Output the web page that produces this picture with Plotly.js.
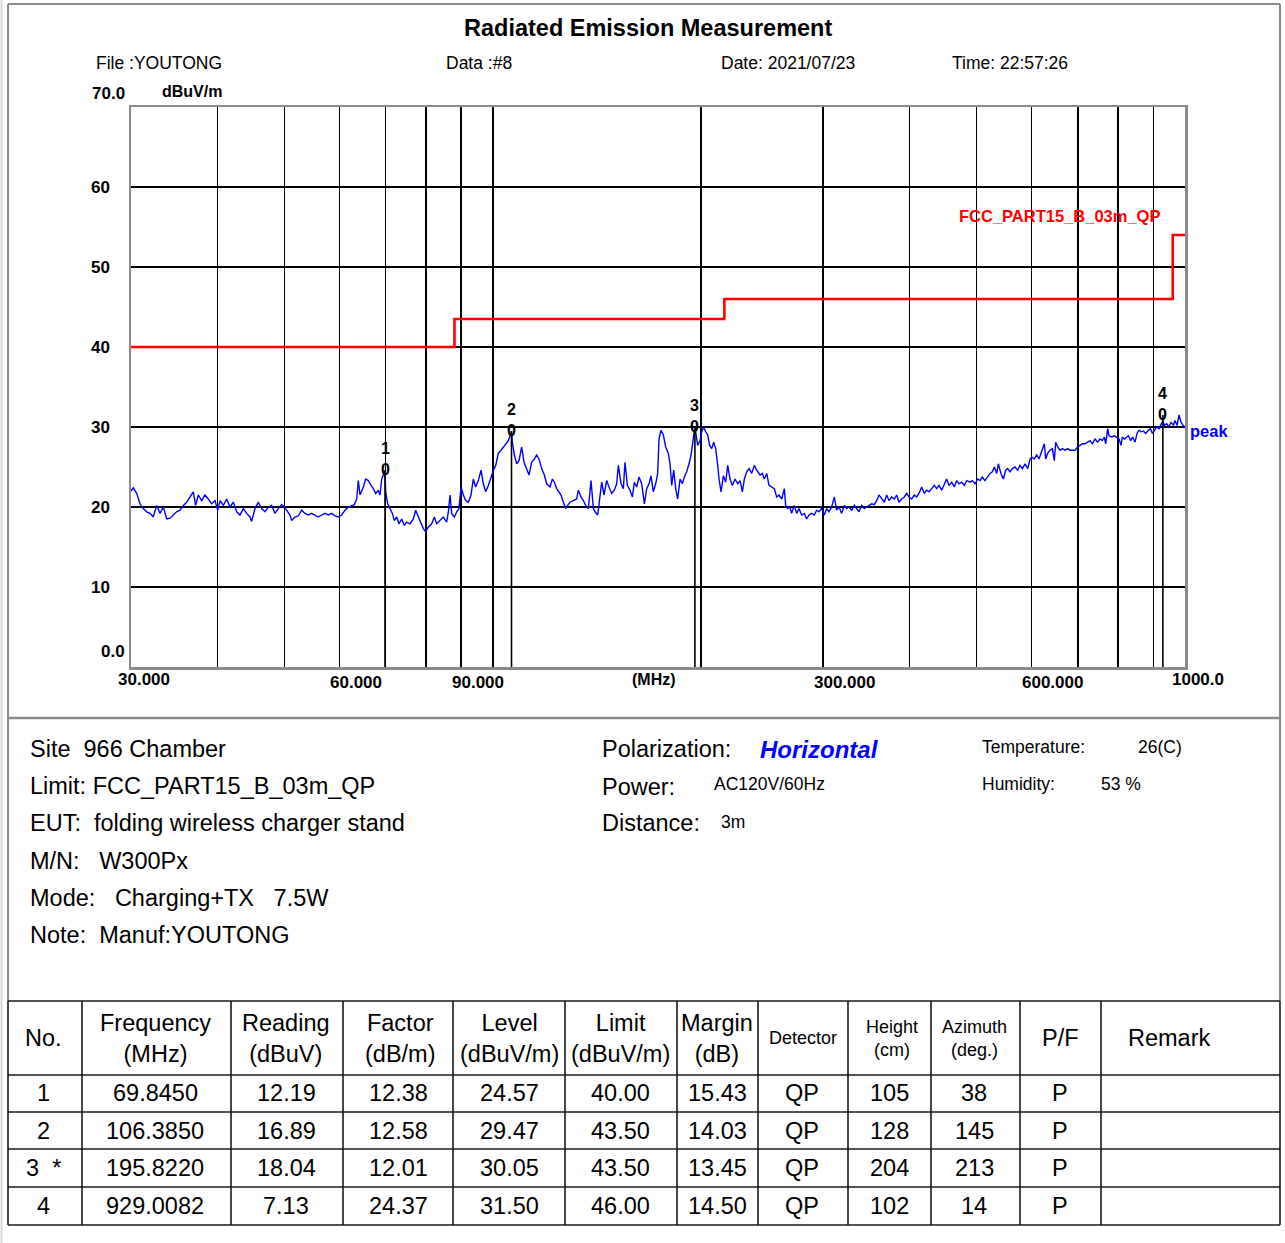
<!DOCTYPE html>
<html>
<head>
<meta charset="utf-8">
<script src="https://cdn.plot.ly/plotly-3.0.1.min.js"></script>
<style>
html,body{margin:0;padding:0;background:#fff;}
#chart{width:1285px;height:1243px;}
</style>
</head>
<body>
<div id="chart"></div>
<script>
// ---------------- DATA ----------------
const traceFreq = [
30.00,30.23,30.57,30.91,31.26,31.60,31.96,32.31,32.67,33.04,33.41,33.78,34.16,34.54,34.92,35.31,35.71,36.10,36.51,36.91,
37.20,37.53,37.95,38.37,38.80,39.23,39.67,40.03,40.34,40.79,41.24,41.70,42.17,42.64,43.11,43.59,44.08,44.57,44.82,45.32,
45.83,46.34,46.85,47.38,47.90,48.44,48.98,49.52,49.97,50.36,50.92,51.20,51.77,52.35,52.93,53.52,54.12,54.72,55.33,55.95,
56.57,57.20,57.84,58.49,59.14,59.80,60.47,61.14,61.83,62.51,63.07,63.56,63.91,64.27,64.99,65.49,66.08,66.66,67.18,67.71,
68.31,68.69,69.08,69.845,70.00,70.47,71.01,71.57,72.05,72.61,73.17,73.83,74.48,75.06,75.90,76.75,77.34,78.03,78.73,79.34,
79.96,80.67,81.58,82.31,82.94,83.87,84.80,85.75,86.23,86.71,87.19,87.97,88.65,89.34,89.94,90.64,91.35,92.16,92.98,93.70,
94.43,95.27,96.13,96.87,97.63,98.50,99.38,100.15,100.94,101.83,102.74,103.54,104.35,105.28,106.385,106.69,107.40,108.24,109.08,110.05,
110.91,111.90,112.77,113.77,114.79,115.68,116.58,117.62,118.67,119.60,120.93,121.88,122.69,123.65,124.61,125.45,126.42,127.41,128.25,129.25,
130.70,132.15,132.89,134.07,135.12,136.17,137.39,138.61,139.69,140.47,141.72,142.82,143.62,144.74,146.02,147.16,148.47,149.79,150.96,151.80,
153.16,154.35,155.20,156.42,157.81,159.04,160.11,161.35,162.60,164.06,165.53,166.81,168.11,169.23,170.54,171.88,173.02,173.79,174.96,176.33,
177.70,179.28,180.28,181.28,182.49,183.71,184.94,186.38,187.83,189.08,190.55,192.04,193.33,194.61,195.822,197.66,199.20,200.31,201.64,203.00,
204.35,205.71,207.09,208.47,209.86,211.26,212.20,213.62,215.28,216.96,218.41,220.11,221.82,223.80,225.80,227.56,229.33,230.86,232.66,234.47,
236.56,238.67,240.53,243.21,245.08,246.70,248.64,250.58,252.80,255.05,257.06,259.07,261.37,263.69,264.86,266.60,268.64,270.14,272.56,274.71,
276.84,279.33,281.82,284.01,286.24,288.80,291.38,293.63,295.93,298.56,301.21,303.56,305.92,308.65,311.40,313.82,316.26,319.05,321.90,324.46,
326.97,329.91,332.86,335.44,338.04,341.06,344.09,346.77,349.48,352.61,355.74,358.51,361.32,364.52,367.77,370.64,373.54,376.86,380.21,383.18,
386.17,389.61,393.08,396.16,399.22,402.79,406.35,409.53,412.71,416.42,420.13,423.40,426.71,430.51,434.33,437.73,441.15,445.07,449.04,452.53,
456.05,460.12,464.23,467.84,471.48,475.69,479.92,483.68,489.06,492.88,497.26,501.73,505.63,509.57,514.09,518.66,522.70,526.79,530.30,534.44,
537.42,542.18,546.42,550.70,554.40,558.68,563.01,568.06,573.11,577.58,582.11,587.35,592.54,597.21,600.43,605.77,610.49,615.25,620.73,626.26,
629.05,633.24,638.19,643.19,647.47,650.36,654.69,659.79,664.93,670.90,676.86,682.11,687.40,693.51,699.71,705.19,710.68,717.03,723.42,729.05,
734.73,741.32,747.91,753.73,759.60,764.65,768.06,773.21,776.62,783.55,790.52,796.73,802.89,808.27,811.88,817.22,823.62,828.23,834.68,840.26,
846.80,852.48,858.15,863.88,870.61,877.39,885.23,891.15,897.07,903.08,910.10,917.17,923.33,929.008,933.62,940.88,948.20,954.54,962.00,967.34,
973.83,980.33,986.87,993.51,1000.0
];
const traceLevel = [
22.0,22.4,21.7,20.4,19.8,19.4,19.2,18.75,20.2,19.2,20.0,18.5,18.6,19.0,19.4,19.6,20.2,20.6,21.25,21.9,
20.2,21.5,20.8,21.5,21.0,20.4,20.8,19.6,20.8,20.2,21.0,20.0,20.6,19.4,19.0,19.8,19.2,18.75,18.2,19.8,
20.6,19.8,19.4,20.0,20.2,19.2,19.8,20.3,20.0,19.6,19.0,18.3,18.75,18.9,19.6,19.2,19.0,19.2,19.0,18.75,
19.0,19.2,19.0,19.2,18.9,18.75,19.0,19.6,20.0,20.2,20.3,21.0,23.3,21.5,22.5,23.5,23.3,22.7,22.3,21.7,
22.1,21.5,23.5,24.57,21.9,20.4,19.8,19.2,18.3,18.75,17.9,18.5,17.7,18.1,17.9,18.5,19.6,18.75,17.9,17.3,
16.9,17.5,17.9,18.75,17.9,18.3,18.75,18.1,19.4,21.5,19.2,18.75,19.4,19.8,22.5,21.5,20.8,20.6,21.5,23.5,
22.5,23.3,24.6,22.9,21.9,22.7,23.75,24.6,25.2,26.7,27.1,27.5,27.9,28.3,29.47,28.1,26.5,25.4,25.8,27.5,
25.6,24.8,24.0,25.6,26.0,26.5,26.0,24.8,24.0,22.9,22.5,23.5,23.1,22.3,21.9,21.5,20.6,19.8,20.2,20.6,
20.8,21.0,22.1,21.25,20.8,20.2,19.8,23.3,19.8,19.4,19.0,21.0,23.1,21.5,23.3,22.5,21.7,22.1,22.9,25.2,
22.9,22.3,25.6,22.7,22.1,21.25,23.1,22.5,23.75,22.9,20.4,22.3,22.9,23.9,21.9,22.9,24.2,28.5,29.6,29.0,
27.5,26.7,25.4,22.7,24.6,22.3,21.0,23.5,22.9,23.75,24.4,25.4,26.5,28.3,30.05,27.7,28.3,29.4,30.0,29.4,
29.0,27.7,27.3,28.1,27.3,25.2,23.5,21.9,23.9,23.1,25.2,23.5,22.7,23.5,22.9,23.3,21.9,23.5,24.4,24.8,
24.2,25.2,24.6,24.0,24.2,23.5,24.2,22.7,22.5,22.3,21.25,21.5,21.0,22.3,20.2,19.8,20.0,19.2,20.2,19.2,
19.8,19.0,19.2,18.5,19.0,19.2,19.0,19.6,19.4,19.8,19.0,19.8,19.4,20.0,21.25,19.6,20.0,19.2,20.2,19.8,
20.0,19.6,20.2,19.8,19.4,20.2,19.8,20.0,20.2,20.4,20.3,20.8,21.5,21.0,20.6,21.5,20.8,21.25,21.0,21.5,
20.6,21.0,21.25,21.7,21.25,21.0,21.5,21.25,21.7,22.5,21.7,22.1,21.9,22.3,22.7,22.3,22.7,22.1,22.9,23.5,
22.7,23.1,22.5,23.3,22.9,23.1,22.7,23.3,23.1,23.3,22.9,23.5,23.3,23.75,23.3,23.75,24.2,24.4,25.0,24.2,
25.4,24.2,23.5,24.6,24.8,24.4,24.8,25.0,24.6,25.2,24.8,25.4,24.8,26.0,26.25,26.0,26.5,26.0,26.9,27.9,
26.0,26.7,27.1,27.3,25.8,28.1,27.5,27.1,27.3,27.1,27.3,27.1,27.1,27.1,27.5,27.7,27.9,27.9,28.1,28.3,
27.9,28.5,28.1,28.5,28.3,28.75,27.9,29.8,28.9,28.75,28.9,28.75,28.5,27.7,28.75,28.5,28.75,28.9,28.3,28.75,
28.1,29.2,29.6,29.4,29.5,29.2,29.6,29.8,29.2,29.6,30.0,29.8,30.4,30.8,30.2,30.4,30.0,30.6,30.2,30.8,
30.2,31.5,30.6,30.2,30.0
];

const limitFreq  = [30, 88, 216, 960, 1000];
const limitLevel = [40, 43.5, 46, 54, 54];

const markerNo    = ['1', '2', '3', '4'];
const markerFreq  = [69.845, 106.385, 195.822, 929.0082];
const markerLevel = [24.57, 29.47, 30.05, 31.50];

const gridFreqs  = [40, 50, 60, 70, 80, 90, 100, 200, 300, 400, 500, 600, 700, 800, 900];
const xTickVals  = [30, 60, 90, 300, 600, 1000];
const xTickText  = ['30.000', '60.000', '90.000', '300.000', '600.000', '1000.0'];
const yTickVals  = [70, 60, 50, 40, 30, 20, 10, 0];
const yTickText  = ['70.0', '60', '50', '40', '30', '20', '10', '0.0'];

const headerInfo = ['File :YOUTONG', 'Data :#8', 'Date: 2021/07/23', 'Time: 22:57:26'];
const leftInfo = ['Site  966 Chamber', 'Limit: FCC_PART15_B_03m_QP', 'EUT:  folding wireless charger stand',
                  'M/N:   W300Px', 'Mode:   Charging+TX   7.5W', 'Note:  Manuf:YOUTONG'];

const tableHeader = ['No.', 'Frequency<br>(MHz)', 'Reading<br>(dBuV)', 'Factor<br>(dB/m)', 'Level<br>(dBuV/m)',
                     'Limit<br>(dBuV/m)', 'Margin<br>(dB)', 'Detector', 'Height<br>(cm)', 'Azimuth<br>(deg.)', 'P/F', 'Remark'];
const colNo       = ['1', '2', '3\u00a0\u00a0*', '4'];
const colFreq     = ['69.8450', '106.3850', '195.8220', '929.0082'];
const colReading  = ['12.19', '16.89', '18.04', '7.13'];
const colFactor   = ['12.38', '12.58', '12.01', '24.37'];
const colLevel    = ['24.57', '29.47', '30.05', '31.50'];
const colLimit    = ['40.00', '43.50', '43.50', '46.00'];
const colMargin   = ['15.43', '14.03', '13.45', '14.50'];
const colDetector = ['QP', 'QP', 'QP', 'QP'];
const colHeight   = ['105', '128', '204', '102'];
const colAzimuth  = ['38', '145', '213', '14'];
const colPF       = ['P', 'P', 'P', 'P'];
const colRemark   = ['', '', '', ''];

// ---------------- LAYOUT HELPERS ----------------
const W = 1285, H = 1243;
const PX = x => x / W;
const PY = y => 1 - y / H;
const FONT = 'Liberation Sans, Arial, sans-serif';

const annotations = [];
const shapes = [];
function txt(x, y, text, size, opts) {
  opts = opts || {};
  annotations.push(Object.assign({
    xref: 'paper', yref: 'paper', x: PX(x), y: PY(y), text: text, showarrow: false,
    xanchor: 'left', yanchor: 'middle',
    font: {family: FONT, size: size, color: opts.color || '#000', weight: opts.weight || 'normal', style: opts.style || 'normal'}
  }, opts.extra || {}));
}
function line(x0, y0, x1, y1, color, width) {
  shapes.push({type: 'line', xref: 'paper', yref: 'paper', x0: PX(x0), y0: PY(y0), x1: PX(x1), y1: PY(y1),
               line: {color: color, width: width}, layer: 'above'});
}

// Title + header
txt(648, 28, 'Radiated Emission Measurement', 23.5, {weight: 'bold', extra: {xanchor: 'center'}});
const headerX = [94, 444, 719, 950];
headerInfo.forEach((t, i) => txt(headerX[i], 63, t, 17.5));

// y tick labels
yTickVals.forEach((v, i) => {
  const isEnd = (v === 70 || v === 0);
  annotations.push({xref: 'paper', yref: 'y', x: PX(isEnd ? 127 : 112), y: v, text: yTickText[i],
    showarrow: false, xanchor: 'right', yanchor: 'middle', yshift: v === 70 ? 14 : (v === 0 ? 16 : 0),
    font: {family: FONT, size: 17, weight: 'bold', color: '#000'}});
});
txt(160, 91, 'dBuV/m', 16, {weight: 'bold'});

// x tick labels
xTickVals.forEach((v, i) => {
  const isEnd = (v === 30 || v === 1000);
  annotations.push({xref: 'x', yref: 'paper', x: Math.log10(v), y: PY(isEnd ? 679 : 682), text: xTickText[i],
    showarrow: false, xanchor: 'left', yanchor: 'middle', xshift: isEnd ? -15 : -11,
    font: {family: FONT, size: 17, weight: 'bold', color: '#000'}});
});
txt(654, 679, '(MHz)', 16, {weight: 'bold', extra: {xanchor: 'center'}});

// limit label and peak label
txt(957, 216, 'FCC_PART15_B_03m_QP', 16.5, {weight: 'bold', color: '#ff0000'});
txt(1188, 431, 'peak', 16.5, {weight: 'bold', color: '#0000ff'});

// marker labels: number stacked above a "0" centred on the measured level
markerNo.forEach((n, i) => {
  annotations.push({xref: 'x', yref: 'y', x: Math.log10(markerFreq[i]), y: markerLevel[i],
    text: n + '<br>0', showarrow: false, xanchor: 'center', yanchor: 'bottom', yshift: -10,
    font: {family: FONT, size: 16, weight: 'bold', color: '#000'}});
});

// page frame
line(8, 4, 1280, 4, '#8a8a8a', 2);
line(8, 4, 8, 1001, '#8a8a8a', 2);
line(1280, 4, 1280, 1001, '#8a8a8a', 2);
line(8, 718, 1280, 718, '#8a8a8a', 2.5);
line(1.5, 0, 1.5, 1243, '#d8d8d8', 2);

// info block
leftInfo.forEach((t, i) => txt(28, 749 + i * 37.2, t, 23.5));
txt(600, 749, 'Polarization:', 23.5);
txt(758, 749, 'Horizontal', 24, {weight: 'bold', style: 'italic', color: '#0000ff'});
txt(600, 787, 'Power:', 23.5);
txt(712, 784, 'AC120V/60Hz', 17.5);
txt(600, 823, 'Distance:', 23.5);
txt(719, 822, '3m', 17.5);
txt(980, 747, 'Temperature:', 17.5);
txt(1136, 747, '26(C)', 17.5);
txt(980, 784, 'Humidity:', 17.5);
txt(1099, 784, '53 %', 17.5);

// table
const rowY = [1001, 1075, 1112, 1149, 1187, 1225];
const colX = [8, 82, 231, 343, 453, 565, 677, 758, 848, 931, 1020, 1101, 1280];
rowY.forEach(y => line(8, y, 1280, y, '#1a1a1a', 1.6));
colX.forEach(x => line(x, 1001, x, 1225, '#1a1a1a', 1.6));
const headCenters = [43, 155, 286, 400, 509, 620, 717, 803, 892, 974, 1060, 1169];
const smallHead = [false, false, false, false, false, false, false, true, true, true, false, false];
tableHeader.forEach((t, i) => txt(headCenters[i], 1038, t, smallHead[i] ? 18 : 23.5,
  {extra: {xanchor: 'center'}}));
const columns = [colNo, colFreq, colReading, colFactor, colLevel, colLimit, colMargin, colDetector,
                 colHeight, colAzimuth, colPF, colRemark];
const cellCenters = [43, 155, 286, 398, 509, 620, 717, 802, 889, 974, 1060, 1169];
const rowCenters = [1093, 1131, 1168, 1206];
columns.forEach((col, c) => col.forEach((t, r) => {
  if (t) txt(cellCenters[c], rowCenters[r], t, 23.5, {extra: {xanchor: 'center'}});
}));

// ---------------- TRACES ----------------
const traces = [
  {x: traceFreq, y: traceLevel, type: 'scatter', mode: 'lines', line: {color: '#0000ff', width: 1.4},
   hoverinfo: 'skip', showlegend: false},
  {x: limitFreq, y: limitLevel, type: 'scatter', mode: 'lines', line: {color: '#ff0000', width: 2.6, shape: 'hv'},
   hoverinfo: 'skip', showlegend: false}
];
markerFreq.forEach((f, i) => traces.push({x: [f, f], y: [0, markerLevel[i]], type: 'scatter', mode: 'lines',
  line: {color: '#000', width: 1.6}, hoverinfo: 'skip', showlegend: false}));

const layout = {
  width: W, height: H,
  margin: {l: 0, r: 0, t: 0, b: 0, pad: 0},
  paper_bgcolor: '#fff', plot_bgcolor: '#fff',
  showlegend: false,
  xaxis: {type: 'log', range: [Math.log10(30), Math.log10(1000)], domain: [PX(131), PX(1185)],
          tickvals: gridFreqs, showticklabels: false, ticks: '', showgrid: true, gridcolor: '#000', gridwidth: 1.5,
          showline: true, mirror: true, linecolor: '#8a8a8a', linewidth: 2.5, zeroline: false, fixedrange: true},
  yaxis: {range: [0, 70], domain: [PY(667), PY(107)], tickvals: [10, 20, 30, 40, 50, 60], showticklabels: false,
          ticks: '', showgrid: true, gridcolor: '#000', gridwidth: 1.5,
          showline: true, mirror: true, linecolor: '#8a8a8a', linewidth: 2.5, zeroline: false, fixedrange: true},
  annotations: annotations,
  shapes: shapes,
  font: {family: FONT}
};

Plotly.newPlot('chart', traces, layout, {staticPlot: true, displayModeBar: false});
</script>
</body>
</html>
